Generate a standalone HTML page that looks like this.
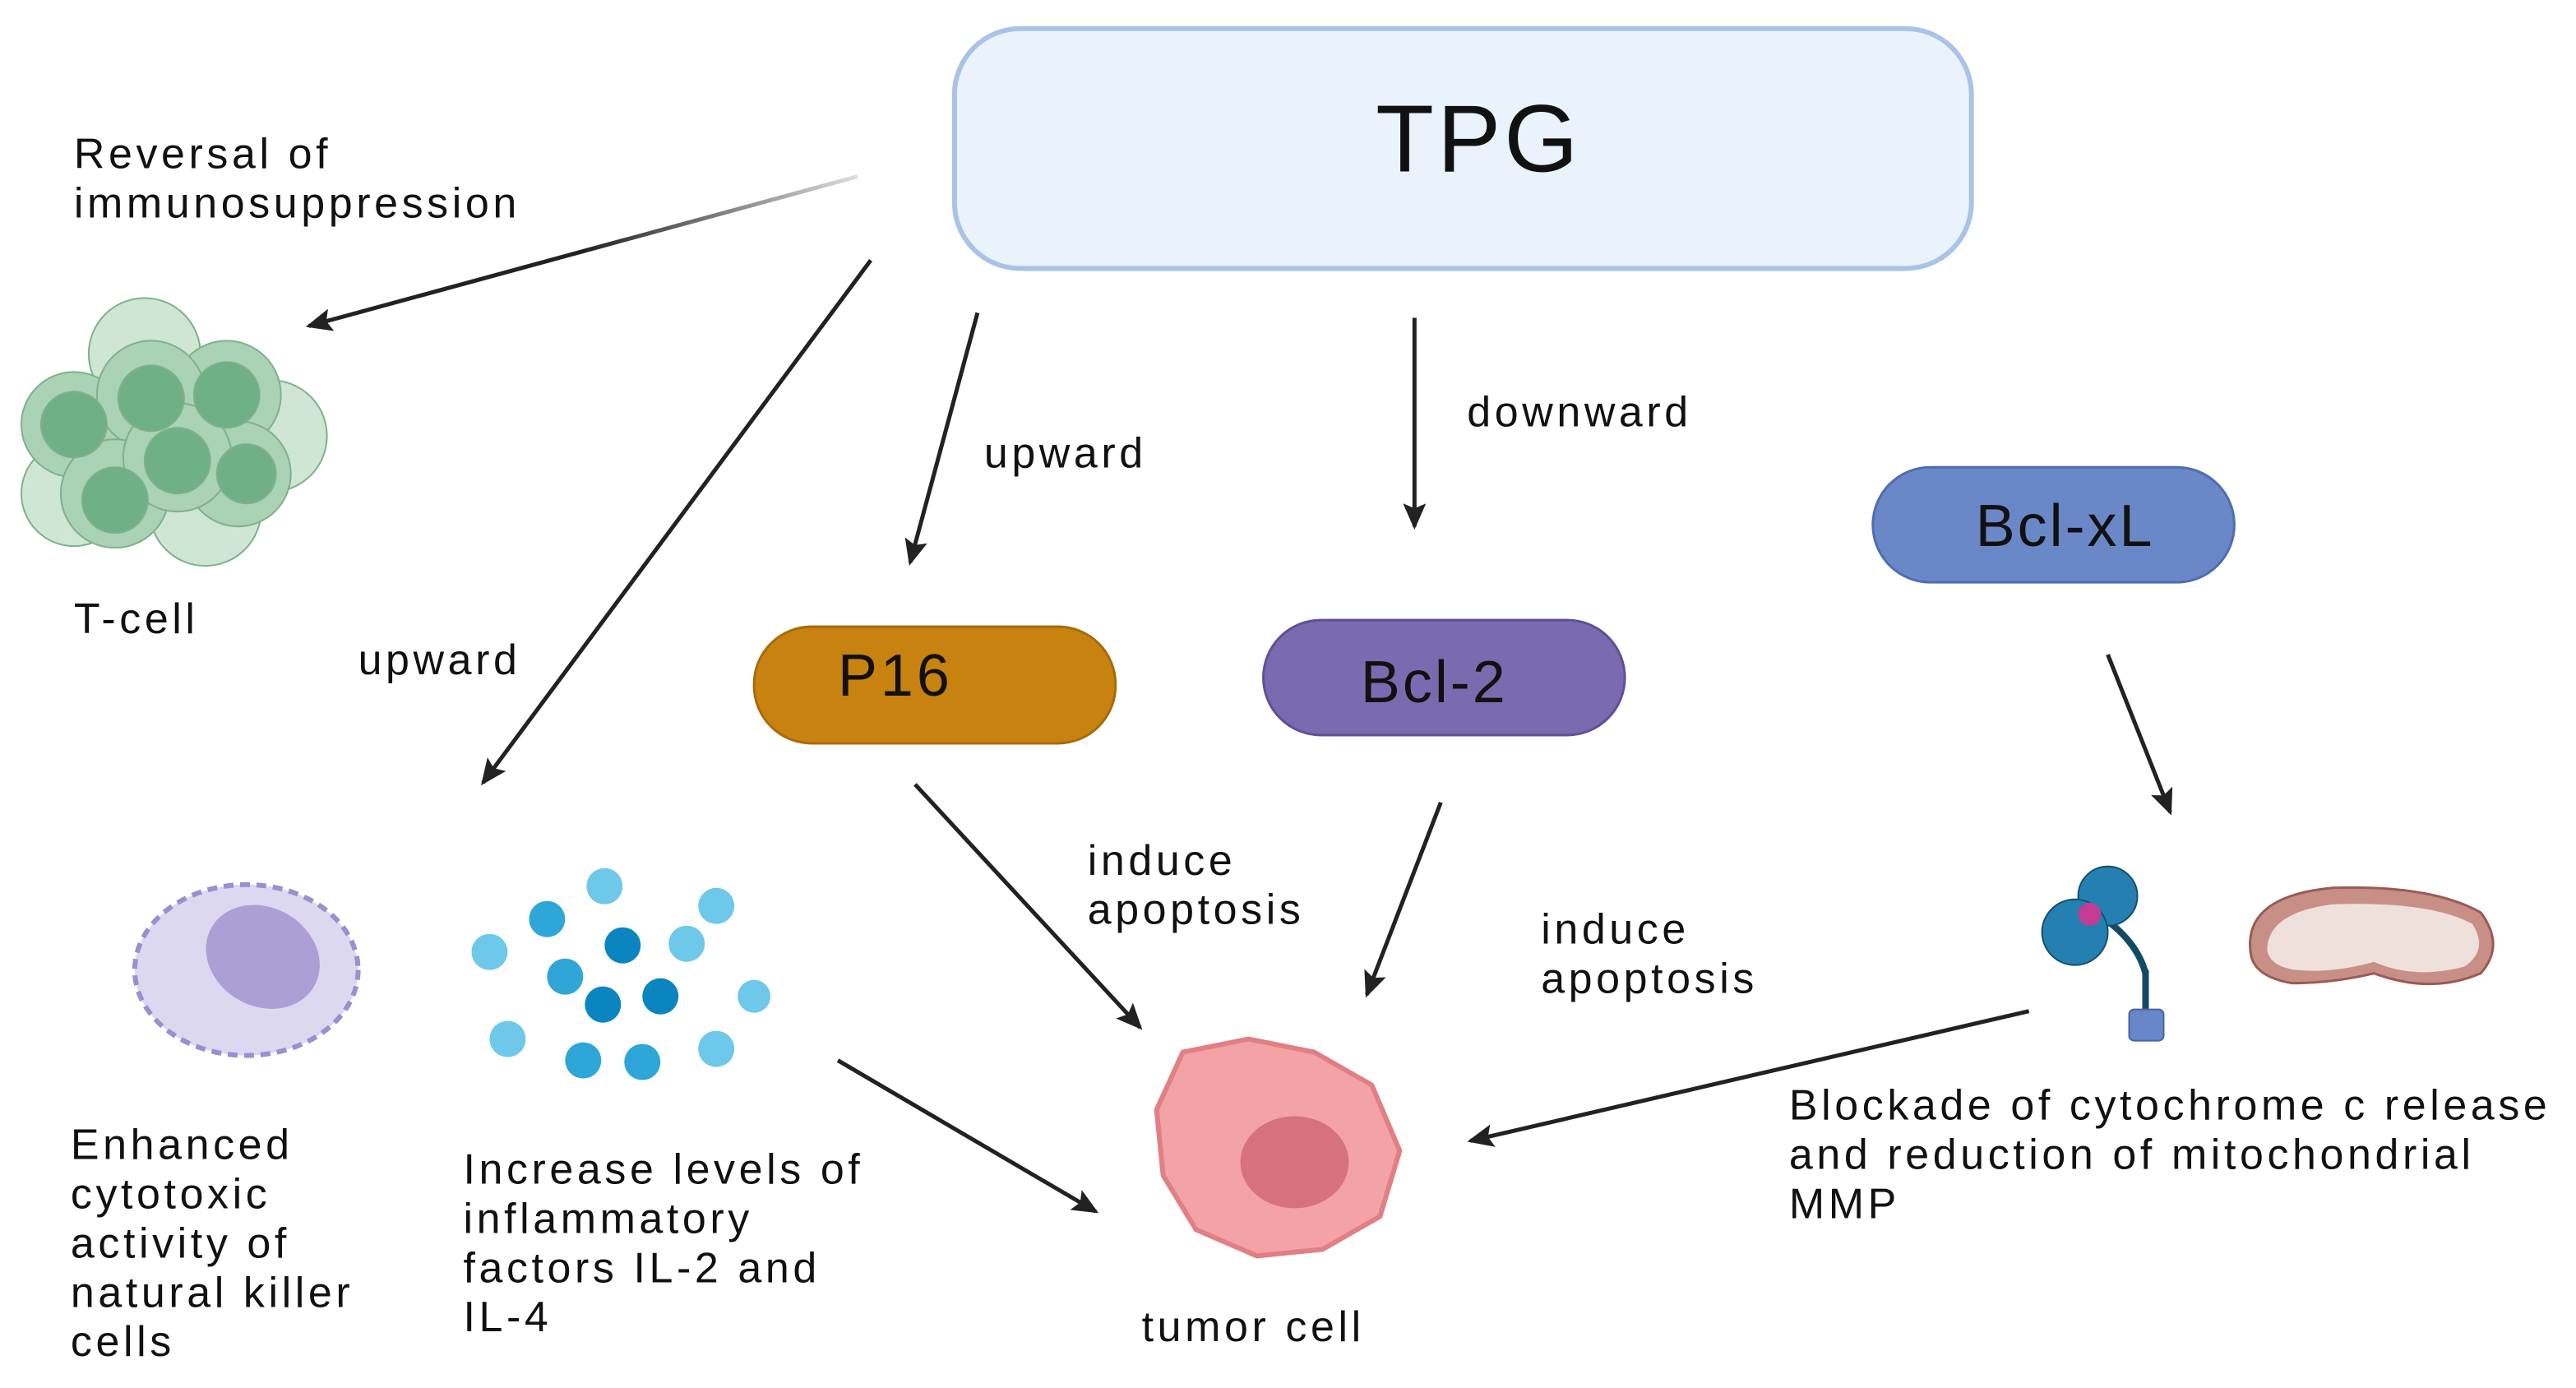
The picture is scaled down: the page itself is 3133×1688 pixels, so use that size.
<!DOCTYPE html>
<html><head><meta charset="utf-8"><style>
html,body{margin:0;padding:0;background:#fff}
svg{display:block}
text{font-family:"Liberation Sans",sans-serif;fill:#111}
</style></head><body>
<svg width="3133" height="1688" viewBox="0 0 1568 844" xmlns="http://www.w3.org/2000/svg">
<defs>
<marker id="ah" markerWidth="16" markerHeight="14" refX="14" refY="7" orient="auto" markerUnits="userSpaceOnUse" viewBox="0 0 16 14"><path d="M0,0 L16,7 L0,14 L3,7z" fill="#222"/></marker>
<linearGradient id="g1" x1="1" y1="0" x2="0" y2="0"><stop offset="0" stop-color="#ddd"/><stop offset="0.5" stop-color="#222"/></linearGradient>
</defs>
<rect x="581" y="17" width="619" height="146" rx="40" fill="#eaf2fb" stroke="#a9c3e8" stroke-width="3"/>
<text x="900" y="104" font-size="58" text-anchor="middle" letter-spacing="2">TPG</text>
<rect x="459" y="381" width="220" height="71" rx="35" fill="#c8820f" stroke="#a86a0a" stroke-width="1.5"/>
<text x="545" y="423" font-size="36" text-anchor="middle" letter-spacing="2">P16</text>
<rect x="769" y="377" width="220" height="70" rx="35" fill="#7a6ab0" stroke="#5e4f98" stroke-width="1.5"/>
<text x="873" y="427" font-size="36" text-anchor="middle" letter-spacing="1.5">Bcl-2</text>
<rect x="1140" y="284" width="220" height="70" rx="35" fill="#6a88c8" stroke="#4f6db0" stroke-width="1.5"/>
<text x="1257" y="332" font-size="36" text-anchor="middle" letter-spacing="1.5">Bcl-xL</text>
<g stroke="#222" stroke-width="2.5" fill="none" marker-end="url(#ah)">
<line x1="522" y1="107" x2="188" y2="198" stroke="url(#g1)"/>
<line x1="530" y1="158" x2="294" y2="476"/>
<line x1="595" y1="190" x2="554" y2="342"/>
<line x1="861" y1="193" x2="861" y2="320"/>
<line x1="1283" y1="398" x2="1321" y2="494"/>
<line x1="557" y1="477" x2="694" y2="625"/>
<line x1="877" y1="488" x2="832" y2="605"/>
<line x1="510" y1="645" x2="667" y2="737"/>
<line x1="1235" y1="615" x2="895" y2="694"/>
</g>
<g font-size="26" letter-spacing="2.3">
<text x="45" y="102">Reversal of</text><text x="45" y="132">immunosuppression</text>
<text x="45" y="385">T-cell</text>
<text x="218" y="410">upward</text>
<text x="599" y="284">upward</text>
<text x="893" y="259">downward</text>
<text x="662" y="532">induce</text><text x="662" y="562">apoptosis</text>
<text x="938" y="574">induce</text><text x="938" y="604">apoptosis</text>
<text x="43" y="705">Enhanced</text><text x="43" y="735">cytotoxic</text><text x="43" y="765">activity of</text><text x="43" y="795">natural killer</text><text x="43" y="825">cells</text>
<text x="282" y="720">Increase levels of</text><text x="282" y="750">inflammatory</text><text x="282" y="780">factors IL-2 and</text><text x="282" y="810">IL-4</text>
<text x="695" y="816">tumor cell</text>
<text x="1089" y="681">Blockade of cytochrome c release</text><text x="1089" y="711">and reduction of mitochondrial</text><text x="1089" y="741">MMP</text>
</g>
<!-- T-cells -->
<g stroke="#7fb08c" stroke-width="1">
<circle cx="88" cy="215" r="34" fill="#cfe6d5"/><circle cx="165" cy="265" r="34" fill="#cfe6d5"/>
<circle cx="45" cy="300" r="32" fill="#cfe6d5"/><circle cx="125" cy="310" r="34" fill="#cfe6d5"/>
<g fill="#a9d3b4"><circle cx="45" cy="258" r="32"/><circle cx="138" cy="240" r="33"/><circle cx="92" cy="240" r="33"/><circle cx="70" cy="300" r="33"/><circle cx="145" cy="288" r="32"/><circle cx="108" cy="278" r="33"/></g>
<g fill="#6fb087"><circle cx="45" cy="258" r="20"/><circle cx="138" cy="240" r="20"/><circle cx="92" cy="242" r="20"/><circle cx="70" cy="304" r="20"/><circle cx="150" cy="288" r="18"/><circle cx="108" cy="280" r="20"/></g>
</g>
<!-- NK cell -->
<ellipse cx="150" cy="590" rx="68" ry="52" fill="#dcd8f0" stroke="#9a8fd0" stroke-width="3" stroke-dasharray="6 4"/>
<ellipse cx="160" cy="582" rx="36" ry="30" fill="#ab9fd6" transform="rotate(30 160 582)"/>
<!-- dots -->
<g fill="#6ec8ea"><circle cx="368" cy="539" r="11"/><circle cx="436" cy="551" r="11"/><circle cx="298" cy="579" r="11"/><circle cx="418" cy="574" r="11"/><circle cx="459" cy="606" r="10"/><circle cx="309" cy="632" r="11"/><circle cx="436" cy="638" r="11"/></g>
<g fill="#2fa6d8"><circle cx="333" cy="559" r="11"/><circle cx="344" cy="594" r="11"/><circle cx="355" cy="645" r="11"/><circle cx="391" cy="646" r="11"/></g>
<g fill="#0a85c0"><circle cx="379" cy="575" r="11"/><circle cx="367" cy="611" r="11"/><circle cx="402" cy="606" r="11"/></g>
<!-- tumor -->
<path d="M720,640 L760,632 L800,640 L835,660 L852,700 L840,740 L805,760 L765,764 L728,748 L708,715 L704,675z" fill="#f3a3a5" stroke="#e07f84" stroke-width="3" stroke-linejoin="round"/>
<ellipse cx="788" cy="707" rx="33" ry="28" fill="#d5727a"/>
<!-- protein -->
<path d="M1306,592 Q1300,570 1275,555" stroke="#124a66" stroke-width="4" fill="none"/>
<circle cx="1283" cy="545" r="18" fill="#2480b0" stroke="#154e6e"/>
<circle cx="1263" cy="567" r="20" fill="#2480b0" stroke="#154e6e"/>
<circle cx="1272" cy="556" r="7" fill="#c23c96"/>
<line x1="1306" y1="590" x2="1306" y2="618" stroke="#124a66" stroke-width="4"/>
<rect x="1296" y="614" width="21" height="19" rx="3" fill="#6688c8" stroke="#4a63a8"/>
<!-- mito -->
<path d="M1370,580 Q1365,545 1420,540 Q1480,538 1510,555 Q1525,575 1510,592 Q1480,605 1445,592 Q1420,598 1395,598 Q1372,594 1370,580z" fill="#c88f86" stroke="#9a5a55" stroke-width="1.5"/>
<path d="M1380,578 Q1380,555 1420,550 Q1480,548 1505,562 Q1515,578 1500,588 Q1470,596 1445,585 Q1420,592 1398,590 Q1382,588 1380,578z" fill="#f0e0dc"/>
</svg>
</body></html>
